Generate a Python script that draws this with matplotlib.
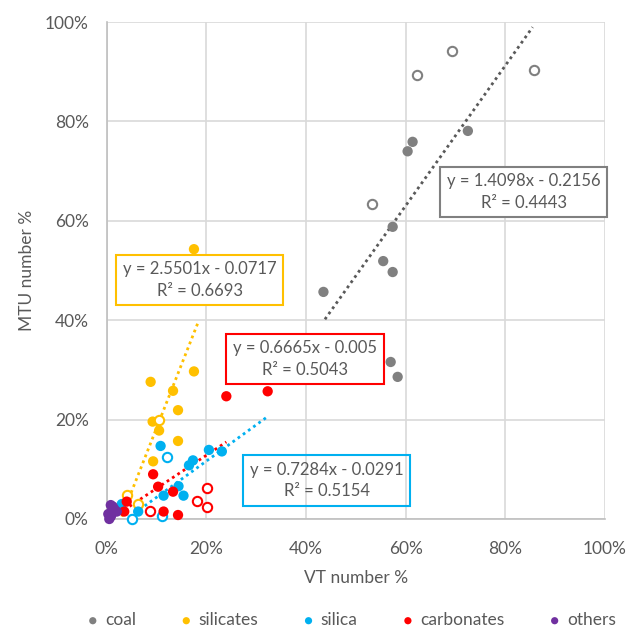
import numpy as np
import matplotlib
matplotlib.use("Agg")
import matplotlib.pyplot as plt
from matplotlib.ticker import PercentFormatter

plt.rcParams['font.family'] = ['Lato', 'DejaVu Sans']

# ---------------------------------------------------------------
# data (fractions, VT on x, MTU on y)
# ---------------------------------------------------------------
coal_x = [0.435, 0.555, 0.574, 0.574, 0.604, 0.614, 0.725, 0.570, 0.584]
coal_y = [0.457, 0.519, 0.497, 0.588, 0.740, 0.759, 0.781, 0.316, 0.286]
coal_open_x = [0.693, 0.622, 0.857, 0.532]
coal_open_y = [0.942, 0.893, 0.903, 0.634]

silicates_x = [0.088, 0.175, 0.133, 0.143, 0.092, 0.105, 0.143, 0.093, 0.175]
silicates_y = [0.276, 0.297, 0.258, 0.219, 0.196, 0.178, 0.157, 0.116, 0.543]
silicates_open_x = [0.104, 0.041, 0.063]
silicates_open_y = [0.200, 0.048, 0.031]

silica_x = [0.108, 0.205, 0.231, 0.173, 0.165, 0.144, 0.114, 0.154, 0.063, 0.030]
silica_y = [0.147, 0.139, 0.136, 0.118, 0.108, 0.066, 0.047, 0.047, 0.015, 0.030]
silica_open_x = [0.121, 0.051, 0.111]
silica_open_y = [0.124, 0.001, 0.006]

carbonates_x = [0.240, 0.323, 0.093, 0.103, 0.133, 0.040, 0.035, 0.114, 0.143]
carbonates_y = [0.247, 0.257, 0.090, 0.065, 0.055, 0.035, 0.015, 0.015, 0.008]
carbonates_open_x = [0.201, 0.182, 0.201, 0.086]
carbonates_open_y = [0.062, 0.036, 0.025, 0.017]

others_x = [0.005, 0.008, 0.010, 0.015, 0.012, 0.020, 0.003, 0.008]
others_y = [0.000, 0.005, 0.010, 0.020, 0.025, 0.015, 0.010, 0.028]

# trendlines: slope, intercept, R², x span
coal_fit = (1.4098, -0.2156, 0.4443, 0.438, 0.855)
silicates_fit = (2.5501, -0.0717, 0.6693, 0.030, 0.183)
silica_fit = (0.7284, -0.0291, 0.5154, 0.045, 0.323)
carbonates_fit = (0.6665, -0.005, 0.5043, 0.035, 0.240)

# name, marker colour, line colour, filled, open, fit, label centre, label fill
series = [
    ("coal", "#808080", "#595959", coal_x, coal_y, coal_open_x, coal_open_y, coal_fit, (0.837, 0.658), 'white'),
    ("silicates", "#ffc000", "#ffc000", silicates_x, silicates_y, silicates_open_x, silicates_open_y, silicates_fit, (0.187, 0.481), 'white'),
    ("silica", "#00b0f0", "#00b0f0", silica_x, silica_y, silica_open_x, silica_open_y, silica_fit, (0.442, 0.078), 'none'),
    ("carbonates", "#ff0000", "#ff0000", carbonates_x, carbonates_y, carbonates_open_x, carbonates_open_y, carbonates_fit, (0.398, 0.322), 'white'),
]

fig = plt.figure(figsize=(6.32, 6.31), dpi=100)
ax = fig.add_axes([0.169, 0.1775, 0.788, 0.7875])

for name, col, lcol, x, y, ox, oy, fit, lbl, fc in series:
    ax.scatter(x, y, s=55, color=col, edgecolors='none', zorder=4, clip_on=False, label=name)
    ax.scatter(ox, oy, s=45, facecolors='white', edgecolors=col, linewidths=1.5, zorder=4, clip_on=False)
    a, b, r2, x0, x1 = fit
    xs = np.array([x0, x1])
    ax.plot(xs, a * xs + b, linestyle=(0, (1, 1.3)), color=lcol, lw=2, zorder=3)
    sign = '-' if b < 0 else '+'
    txt = f"y = {a:.4f}x {sign} {abs(b):g}\nR² = {r2:.4f}"
    ax.text(lbl[0], lbl[1], txt, ha='center', va='center', fontsize=12, color='#595959',
            linespacing=1.4, zorder=3.5,
            bbox=dict(boxstyle='square,pad=0.4', fc=fc, ec=col, lw=1.5))

ax.scatter(others_x, others_y, s=55, color='#7030a0', edgecolors='none', zorder=5, clip_on=False, label='others')

ax.set_xlim(0, 1)
ax.set_ylim(0, 1)
ax.set_xticks(np.arange(0, 1.01, 0.2))
ax.set_yticks(np.arange(0, 1.01, 0.2))
ax.xaxis.set_major_formatter(PercentFormatter(1.0, decimals=0))
ax.yaxis.set_major_formatter(PercentFormatter(1.0, decimals=0))
ax.grid(True, color='#d9d9d9', lw=1.2)
ax.set_axisbelow(True)
for s in ['top', 'right']:
    ax.spines[s].set_visible(False)
for s in ['left', 'bottom']:
    ax.spines[s].set_color('#bfbfbf')
    ax.spines[s].set_linewidth(1.2)
ax.tick_params(length=0, labelsize=12.5, labelcolor='#595959')
ax.tick_params(axis='x', pad=16)
ax.tick_params(axis='y', pad=13)
ax.set_xlabel("VT number %", fontsize=12.5, color='#595959', labelpad=9)
ax.set_ylabel("MTU number %", fontsize=12.5, color='#595959', labelpad=7)

fig.legend(loc='center', ncol=5, frameon=False, fontsize=12.5, labelcolor='#595959',
           handlelength=0.8, handletextpad=0.3, columnspacing=2.5, markerscale=0.7,
           bbox_to_anchor=(0.555, 0.017))

fig.savefig("out.png", dpi=100)
